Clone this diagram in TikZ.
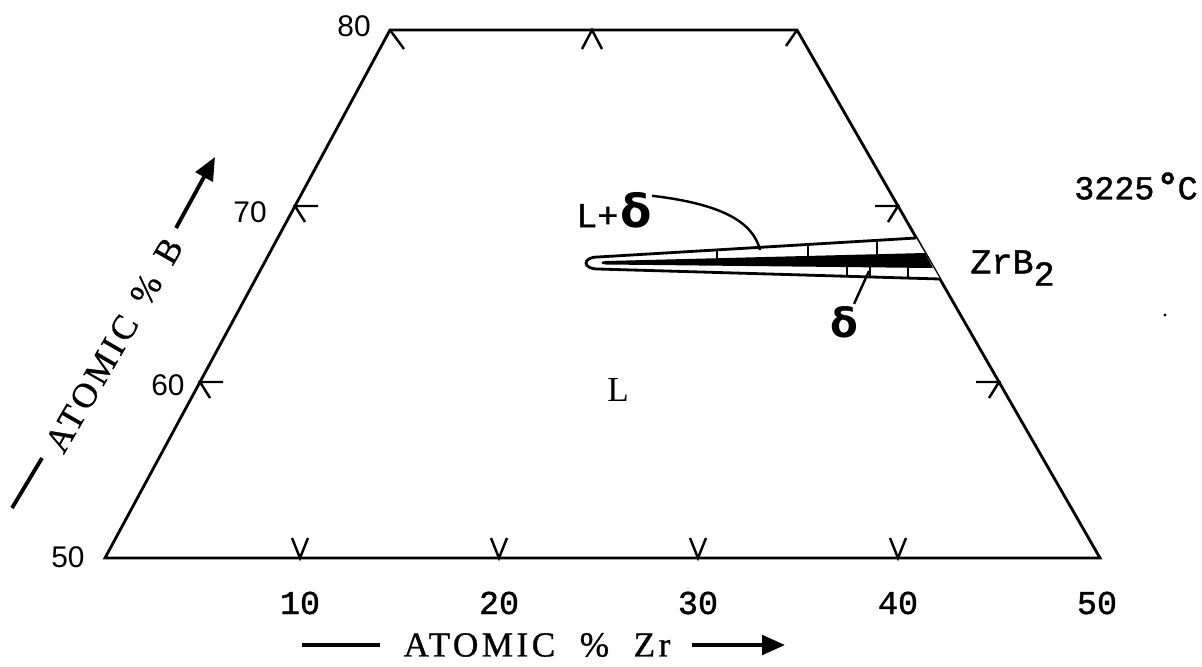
\documentclass[tikz,border=0pt]{standalone}
\usepackage{fontspec}
\setmainfont{Liberation Serif}
\newfontfamily\axisfont{Liberation Sans}
\newfontfamily\typefont[FakeBold=1.2]{Liberation Mono}
\newfontfamily\captfont[LetterSpace=10,FakeBold=0.8]{Liberation Serif}
\newfontfamily\greekfont{DejaVu Sans}
\usetikzlibrary{arrows.meta}

\begin{document}
\begin{tikzpicture}[x=0.02cm,y=-0.02cm,
  frame/.style={line width=1.6pt,line join=miter},
  tick/.style={line width=1.4pt},
  tie/.style={line width=1.1pt},
  lead/.style={line width=1.4pt},
  axisline/.style={line width=2.2pt},
  axisarrow/.style={axisline,-{Triangle[length=13pt,width=11pt]}},
  leftnum/.style={font=\axisfont\fontsize{17}{17}\selectfont,inner sep=0pt},
  botnum/.style={font=\typefont\fontsize{19}{19}\selectfont,inner sep=0pt},
  caption/.style={font=\captfont\fontsize{20}{20}\selectfont,inner sep=0pt},
  phase/.style={font=\typefont\fontsize{20}{20}\selectfont,inner sep=0pt},
  bigdelta/.style={font=\greekfont\bfseries\fontsize{23}{23}\selectfont,inner sep=0pt}
]
\useasboundingbox (0,0) rectangle (1202,666);

% section at 3225 C
\coordinate (BL) at (105,558);
\coordinate (TL) at (390,30);
\coordinate (TR) at (797,30);
\coordinate (BR) at (1100,558);
\draw[frame] (BL) -- (TL) -- (TR) -- (BR) -- cycle;

% ticks, bottom edge (B = 50)
\foreach \x in {300,499,698,898}
  \draw[tick] (\x-8,538) -- (\x,558) -- (\x+8,538);
% ticks, top edge (B = 80)
\draw[tick] (TL) -- ++(14,19);
\draw[tick] (592-10,49) -- (592,30) -- (592+10,49);
\draw[tick] (TR) -- ++(-11,16);
% ticks, left and right edges (B = 70, 60)
\foreach \x/\y in {295/206,200/382}
  \draw[tick] (\x+23,\y) -- (\x,\y) -- (\x+10,\y+16);
\foreach \x/\y in {898/206,999/382}
  \draw[tick] (\x-23,\y) -- (\x,\y) -- (\x-10,\y+16);

% scale numbers
\node[leftnum] (n80) at (354,26) {80};
\node[leftnum] (n70) at (250,212) {70};
\node[leftnum] (n60) at (168,385) {60};
\node[leftnum] (n50) at (68,557) {50};
\foreach \x/\t in {300/10,499/20,698/30,898/40,1097/50}
  \node[botnum] at (\x,603) {\t};

% axis captions
\coordinate (zr0) at (302,645);
\coordinate (zr1) at (380,645);
\coordinate (zr2) at (692,645);
\coordinate (zr3) at (785,645);
\draw[axisline] (zr0) -- (zr1);
\node[caption] (zrcap) at (537,645) {ATOMIC\ \ \%\ \ Zr};
\draw[axisarrow] (zr2) -- (zr3);

\coordinate (b0) at (12,508);
\coordinate (b1) at (42,458);
\coordinate (b2) at (176,228);
\coordinate (b3) at (215,157);
\draw[axisline] (b0) -- (b1);
\node[caption,rotate=60] (bcap) at (114,345) {ATOMIC\,\ \%\,\ B};
\draw[axisarrow] (b2) -- (b3);

% L + delta field and delta
\draw[frame,fill=white] (940,279) -- (598,269)
  .. controls (582,269) and (582,257) .. (598,257) -- (916,238);
\fill (933,268) -- (606,264.5) .. controls (600,264.5) and (600,261) .. (606,261)
  -- (925,253) -- cycle;
% tie lines
\foreach \x/\a/\b in {717/249.9/258.2,808/244.5/255.9,877/240.4/254.2}
  \draw[tie] (\x,\a) -- (\x,\b);
\foreach \x/\a/\b in {847/266.6/276.3,870/266.8/277.0,908/267.2/278.1}
  \draw[tie] (\x,\a) -- (\x,\b);

% labels
\node[phase] (Ld) at (614,210) {L+\kern1pt{\greekfont\bfseries\fontsize{26}{26}\selectfont δ}};
\coordinate (Ltip) at (760,250);
\draw[lead] (Ld.north east) ++(0,4) .. controls (722,204) and (753,222) .. (Ltip);
\node[bigdelta] (dl) at (844,322) {δ};
\coordinate (dtip) at (869,271);
\draw[lead] (dl.north) ++(10,-2) -- (dtip);
\node[phase,anchor=west] (zrb) at (970,268) {ZrB\raisebox{-7pt}{2}};
\node[font=\rmfamily\fontsize{20}{20}\selectfont,inner sep=0pt] (L) at (618,390) {L};
\node[phase,font=\typefont\fontsize{19}{19}\selectfont,anchor=east] (temp) at (1198,186)
  {3225\kern1pt{\bfseries\fontsize{22}{22}\selectfont °}\kern-1ptC};
\fill (1165,315) circle (1.6);
\end{tikzpicture}
\end{document}
